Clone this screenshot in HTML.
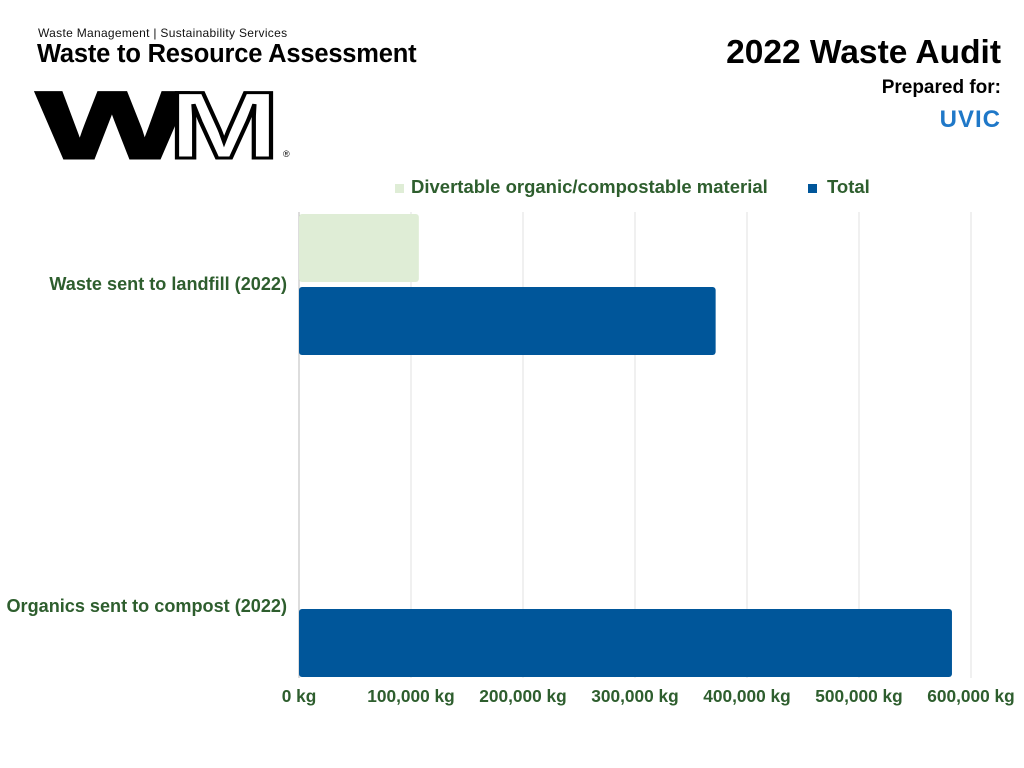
<!DOCTYPE html>
<html><head><meta charset="utf-8">
<style>
body{margin:0;width:1024px;height:768px;background:#fff;font-family:"Liberation Sans",sans-serif;overflow:hidden;position:relative}
.a{position:absolute;white-space:nowrap}
</style></head><body>
<div class="a" style="left:38px;top:26px;font-size:12px;color:#111;letter-spacing:0.3px">Waste Management | Sustainability Services</div>
<div class="a" style="left:37px;top:40px;font-size:25.5px;font-weight:bold;color:#000;letter-spacing:-0.2px">Waste to Resource Assessment</div>
<svg class="a" style="left:0;top:80px" width="300" height="85">
<text x="37" y="78" font-family="Liberation Sans" font-weight="bold" font-size="95" textLength="150" lengthAdjust="spacingAndGlyphs" fill="#000" stroke="#000" stroke-width="3">W</text>
<text x="168" y="78" font-family="Liberation Sans" font-weight="bold" font-size="95" textLength="112" lengthAdjust="spacingAndGlyphs" fill="#fff" stroke="#000" stroke-width="3">M</text>
<text x="283" y="77" font-size="9" fill="#000">®</text>
</svg>
<div class="a" style="right:23px;top:34px;font-size:33.5px;font-weight:bold;color:#000">2022 Waste Audit</div>
<div class="a" style="right:23px;top:77px;font-size:19px;font-weight:bold;color:#000">Prepared for:</div>
<div class="a" style="right:23px;top:106px;font-size:24px;font-weight:bold;color:#1f78c8;letter-spacing:1px">UVIC</div>
<div class="a" style="left:395px;top:176px;font-size:18.5px;font-weight:bold;color:#2e5e2e"><span style="display:inline-block;width:9px;height:9px;background:#dfedd6;margin-right:7px"></span>Divertable organic/compostable material</div>
<div class="a" style="left:808px;top:176px;font-size:18.5px;font-weight:bold;color:#2e5e2e"><span style="display:inline-block;width:9px;height:9px;background:#00569a;margin-right:10px"></span>Total</div>
<svg id="chart" class="a" style="left:0;top:0" width="1024" height="768"></svg>
<script>
const categories=["Waste sent to landfill (2022)","Organics sent to compost (2022)"];
const divertable=[107000,0];
const totals=[372000,583000];
const ticks=[0,100000,200000,300000,400000,500000,600000];
const tickLabels=["0 kg","100,000 kg","200,000 kg","300,000 kg","400,000 kg","500,000 kg","600,000 kg"];
const svg=document.getElementById('chart');const NS="http://www.w3.org/2000/svg";
const x=v=>299+v*112/100000;
const bandTop=i=>214+i*322;
function mk(t,a){const e=document.createElementNS(NS,t);for(const k in a)e.setAttribute(k,a[k]);svg.appendChild(e);return e;}
ticks.forEach((t,i)=>{
 const g=mk('line',{x1:x(t),x2:x(t),y1:212,y2:678,stroke:i==0?'#bbb':'#e2e2e2','stroke-width':1});
 
 
 const l=mk('text',{x:x(t),y:702,'text-anchor':'middle','font-size':17.3,'font-weight':'bold',fill:'#2e5e2e'});
 l.textContent=tickLabels[i];
 
 
});
categories.forEach((c,i)=>{
 const top=bandTop(i);
 if(divertable[i]>0){
 const b=mk('rect',{x:x(0),y:top,width:x(divertable[i])-x(0),height:68,rx:3,fill:'#dfedd6'});
 
 }
 const b2=mk('rect',{x:x(0),y:top+73,width:x(totals[i])-x(0),height:68,rx:3,fill:'#00569a'});
 
 
 const l=mk('text',{x:287,y:top+76,'text-anchor':'end','font-size':18.1,'font-weight':'bold',fill:'#2e5e2e'});
 l.textContent=c;
 
 
});
</script>
</body></html>
